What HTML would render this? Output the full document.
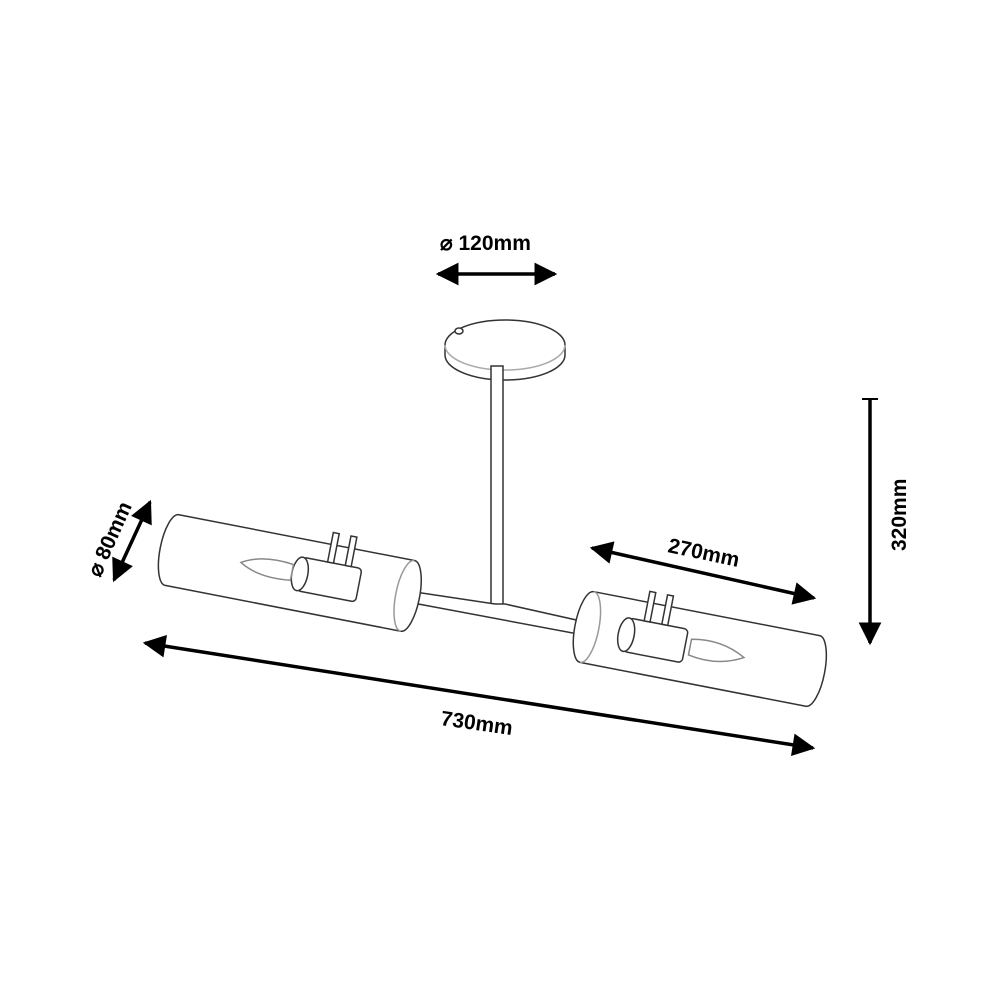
<!DOCTYPE html>
<html><head><meta charset="utf-8"><style>
html,body{margin:0;padding:0;background:#fff;}
svg{display:block;}
text{font-family:"Liberation Sans",sans-serif;font-weight:bold;fill:#000;}
</style></head><body>
<svg width="1000" height="1000" viewBox="0 0 1000 1000" xmlns="http://www.w3.org/2000/svg">
<defs>
<marker id="a" viewBox="0 0 10 10" refX="9" refY="5" markerWidth="7" markerHeight="6.5" orient="auto-start-reverse" markerUnits="strokeWidth">
<path d="M0,0 L10,5 L0,10 z" fill="#000"/></marker>
</defs>
<text x="440" y="250" font-size="21">⌀ 120mm</text>
<line x1="438" y1="274" x2="555" y2="274" stroke="#000" stroke-width="3.5" marker-start="url(#a)" marker-end="url(#a)"/>
<g stroke="#333" stroke-width="1.5" fill="#fff">
<path d="M445,345 A60,25 0 0 1 565,345 L565,355 A60,25 0 0 1 445,355 Z"/>
<path d="M445,345 A60,25 0 0 0 565,345" fill="none" stroke="#aaa"/>
<ellipse cx="459" cy="331" rx="4" ry="3"/>
<rect x="491" y="366" width="12" height="240"/>
<path d="M415,592 L495,604 L505,604 L612,628 L610,640 L413,603 Z"/>
<g transform="rotate(11 290 572)">
<path d="M170,537 L410,537 A12,36 0 0 1 410,609 L170,609 A12,36 0 0 1 170,537 Z"/>
<path d="M410,537 A12,36 0 0 0 410,609" fill="none" stroke="#999"/>
<rect x="300" y="555" width="60" height="34" rx="4"/>
<ellipse cx="300" cy="572" rx="8" ry="17"/>
<path d="M240,572 Q260,560 292,564 L292,580 Q260,584 240,572 Z" stroke="#888"/>
<rect x="325" y="525" width="6" height="30"/><rect x="343" y="525" width="6" height="30"/>
</g>
<g transform="rotate(11 700 648)">
<path d="M585,613 L815,613 A12,36 0 0 1 815,685 L585,685 A12,36 0 0 1 585,613 Z"/>
<path d="M585,613 A12,36 0 0 1 585,685" fill="none" stroke="#999"/>
<rect x="625" y="632" width="60" height="34" rx="4"/>
<ellipse cx="625" cy="649" rx="8" ry="17"/>
<path d="M690,641 Q720,635 745,649 Q720,663 690,657 Z" stroke="#888"/>
<rect x="640" y="602" width="6" height="30"/><rect x="658" y="602" width="6" height="30"/>
</g>
</g>
<line x1="862" y1="399" x2="878" y2="399" stroke="#000" stroke-width="2"/>
<line x1="870" y1="399" x2="870" y2="643" stroke="#000" stroke-width="3.5" marker-end="url(#a)"/>
<text x="0" y="0" font-size="21" transform="translate(906,551) rotate(-90)">320mm</text>
<line x1="592" y1="548" x2="814" y2="598" stroke="#000" stroke-width="3.5" marker-start="url(#a)" marker-end="url(#a)"/>
<text x="0" y="0" font-size="21" transform="translate(667,552) rotate(12)">270mm</text>
<line x1="145" y1="643" x2="813" y2="748" stroke="#000" stroke-width="3.5" marker-start="url(#a)" marker-end="url(#a)"/>
<text x="0" y="0" font-size="21" transform="translate(440,725) rotate(8)">730mm</text>
<line x1="150" y1="502" x2="114" y2="580" stroke="#000" stroke-width="3.5" marker-start="url(#a)" marker-end="url(#a)"/>
<text x="0" y="0" font-size="21" transform="translate(100,578) rotate(-66)">⌀ 80mm</text>
</svg>
</body></html>
